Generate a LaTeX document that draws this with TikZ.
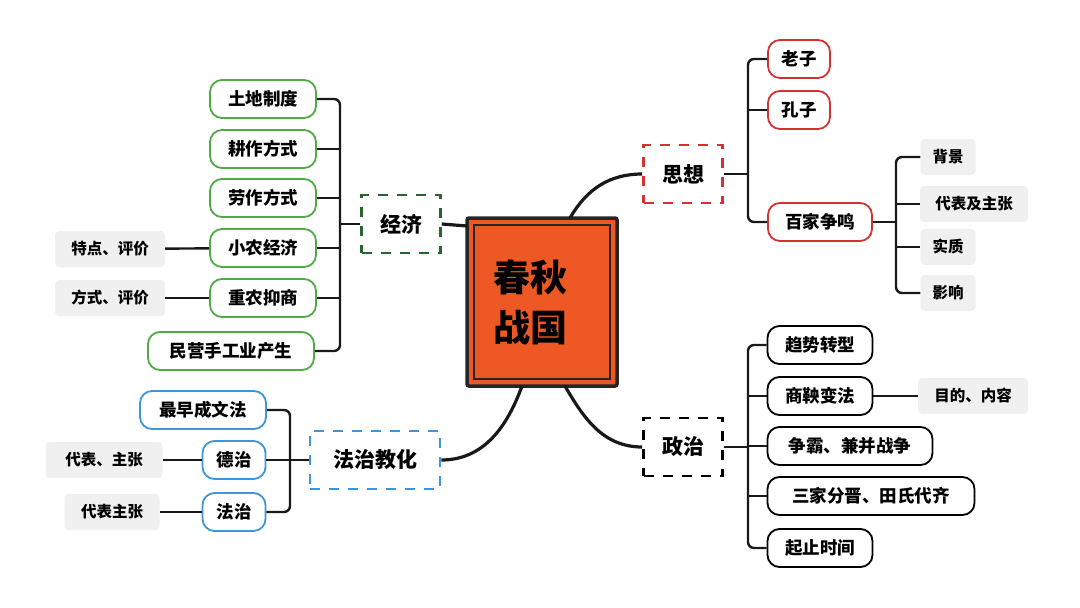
\documentclass[tikz,border=0pt]{standalone}
\usepackage{fontspec}
\setmainfont{Noto Sans CJK SC}
\definecolor{org}{RGB}{238,88,36}
\definecolor{grn}{RGB}{80,170,70}
\definecolor{dgrn}{RGB}{40,100,45}
\definecolor{rd}{RGB}{210,50,50}
\definecolor{bl}{RGB}{60,150,215}
\begin{document}
\begin{tikzpicture}[x=1pt,y=-1pt,
 lf/.style={rounded corners=12pt,line width=1.8pt,fill=white,minimum height=38pt,inner xsep=9pt,font=\bfseries\fontsize{17.5}{19}\selectfont},
 gl/.style={lf,draw=grn},
 rl/.style={lf,draw=rd},
 bl/.style={lf,draw=bl},
 kl/.style={lf,draw=black},
 gy/.style={rounded corners=4pt,fill=black!6,minimum height=36pt,inner xsep=10pt,font=\bfseries\fontsize{15.5}{17}\selectfont},
 mn/.style={line width=2.6pt,dash pattern=on 10pt off 9pt,fill=white,minimum width=79pt,minimum height=58pt,font=\bfseries\fontsize{21}{23}\selectfont},
 ln/.style={line width=2.4pt,black!90,rounded corners=6pt}]
\useasboundingbox (0,0) rectangle (1080,608);
% center
\node[draw=black!85,line width=3.5pt,fill=org,rounded corners=2pt,minimum width=150pt,minimum height=168pt] (c) at (542,302) {};
\draw[black!85,line width=2.2pt] (474,225) rectangle (610,379);
\node[font=\bfseries\fontsize{37}{50}\selectfont,align=left] at (530,302) {春秋\\战国};
% main topics
\node[mn,draw=dgrn] (jj) at (401,224) {经济};
\node[mn,draw=rd] (sx) at (683,174) {思想};
\node[mn,draw=black] (zz) at (683,447) {政治};
\node[mn,draw=bl,minimum width=130pt] (fz) at (375,460) {法治教化};
\coordinate (cl) at (467,226);
\coordinate (ct) at (570,218);
\coordinate (cb1) at (565,386);
\coordinate (cb2) at (522,386);
\draw[ln,line width=3.2pt] (cl) -- (jj.east);
\draw[ln,line width=3.2pt] (ct) to[out=60,in=180] (sx.west);
\draw[ln,line width=3.2pt] (cb1) to[out=-60,in=180] (zz.west);
\draw[ln,line width=3.2pt] (cb2) to[out=-110,in=0] (fz.east);
% economy
\foreach \n/\t/\y in {g1/土地制度/99,g2/耕作方式/149,g3/劳作方式/198,g4/小农经济/248,g5/重农抑商/298}
  \node[gl,minimum width=106pt] (\n) at (263,\y) {\t};
\node[gl,minimum width=166pt] (g6) at (231,351) {民营手工业产生};
\draw[ln] (jj.west) -- (340,224);
\draw[ln] (g1.east) -- (340,99) -- (340,351) -- (g6.east);
\foreach \n in {g2,g3,g4,g5} \draw[ln] (\n.east) -- (\n.east -| 340,0);
\node[gy,minimum width=110pt] (e1) at (110,249) {特点、评价};
\node[gy,minimum width=110pt] (e2) at (110,298) {方式、评价};
\draw[ln] (e1) -- (g4); \draw[ln] (e2) -- (g5);
% thought
\node[rl,minimum width=62pt] (r1) at (799,59) {老子};
\node[rl,minimum width=62pt] (r2) at (799,110) {孔子};
\node[rl,minimum width=104pt] (r3) at (820,222) {百家争鸣};
\draw[ln] (sx.east) -- (748,174);
\draw[ln] (r1.west) -- (748,59) -- (748,222) -- (r3.west);
\draw[ln] (r2.west) -- (748,110);
\node[gy,minimum width=55pt] (s1) at (948,157) {背景};
\node[gy,minimum width=108pt] (s2) at (974,204) {代表及主张};
\node[gy,minimum width=55pt] (s3) at (948,247) {实质};
\node[gy,minimum width=55pt] (s4) at (948,293) {影响};
\draw[ln] (r3.east) -- (896,222);
\draw[ln] (s1.west) -- (896,157) -- (896,293) -- (s4.west);
\draw[ln] (s2.west) -- (896,204); \draw[ln] (s3.west) -- (896,247);
% politics
\node[kl,minimum width=105pt] (k1) at (820,345) {趋势转型};
\node[kl,minimum width=105pt] (k2) at (820,396) {商鞅变法};
\node[kl,minimum width=165pt] (k3) at (850,446) {争霸、兼并战争};
\node[kl,minimum width=207pt] (k4) at (871,496) {三家分晋、田氏代齐};
\node[kl,minimum width=105pt] (k5) at (820,548) {起止时间};
\draw[ln] (zz.east) -- (748,447);
\draw[ln] (k1.west) -- (748,345) -- (748,548) -- (k5.west);
\foreach \n in {k2,k3,k4} \draw[ln] (\n.west) -- (\n.west -| 748,0);
\node[gy,minimum width=110pt] (p1) at (973,396) {目的、内容};
\draw[ln] (k2) -- (p1);
% law
\node[bl,minimum width=126pt] (b1) at (203,410) {最早成文法};
\node[bl,minimum width=63pt] (b2) at (234,460) {德治};
\node[bl,minimum width=63pt] (b3) at (234,512) {法治};
\draw[ln] (fz.west) -- (290,460);
\draw[ln] (b1.east) -- (290,410) -- (290,512) -- (b3.east);
\draw[ln] (b2.east) -- (290,460);
\node[gy,minimum width=117pt] (l1) at (104,460) {代表、主张};
\node[gy,minimum width=95pt] (l2) at (112,512) {代表主张};
\draw[ln] (l1) -- (b2); \draw[ln] (l2) -- (b3);
\end{tikzpicture}
\end{document}
